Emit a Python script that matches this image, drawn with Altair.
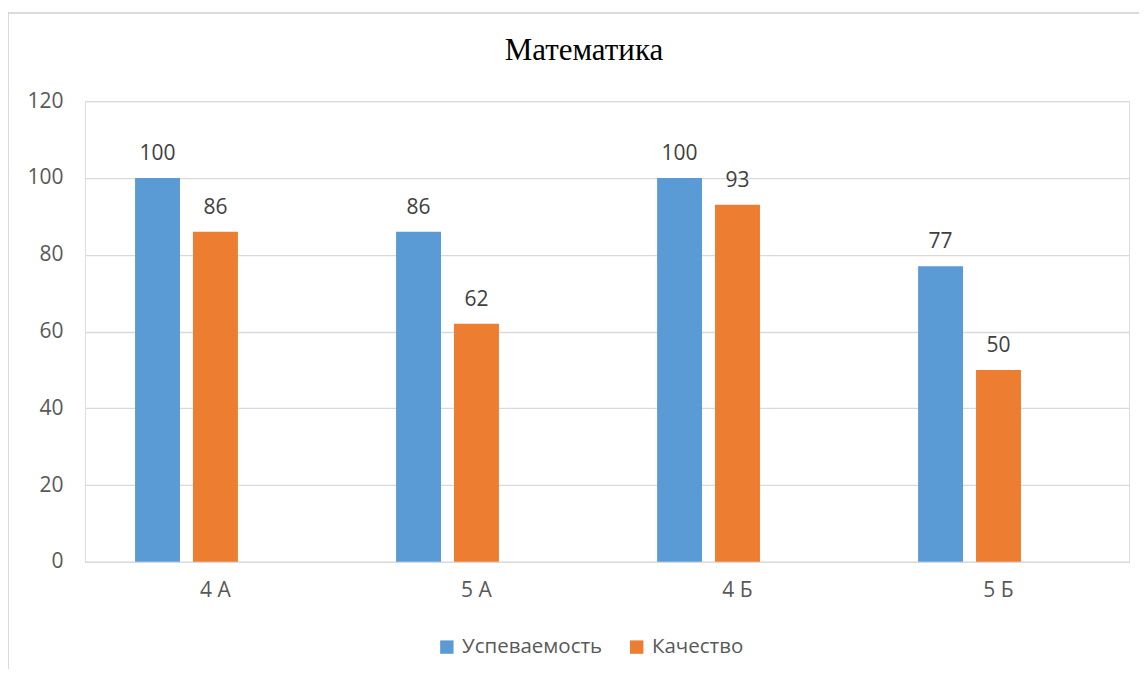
import altair as alt
import pandas as pd

classes = ["4 А", "5 А", "4 Б", "5 Б"]
uspev = [100, 86, 100, 77]
kach = [86, 62, 93, 50]
series = ["Успеваемость", "Качество"]
colors = ["#5B9BD5", "#ED7D31"]
# Excel leaves room for a third (empty) series slot in each group
offset_slots = series + ["_empty"]

rows = []
for c, u, k in zip(classes, uspev, kach):
    rows.append({"cls": c, "series": series[0], "value": u})
    rows.append({"cls": c, "series": series[1], "value": k})
df = pd.DataFrame(rows)

W, H = 1045, 461
FONT = "Open Sans"

x_enc = alt.X("cls:N", sort=classes, title=None,
              scale=alt.Scale(paddingInner=0.384, paddingOuter=0.192),
              axis=alt.Axis(labelAngle=0, labelFontSize=21, labelColor="#595959",
                            labelFont=FONT, labelPadding=18, ticks=False,
                            domainColor="#D9D9D9", domainWidth=1.3, grid=False))
xoff = alt.XOffset("series:N",
                   scale=alt.Scale(domain=offset_slots, paddingInner=0.224,
                                   paddingOuter=0))

base = alt.Chart(df)

bars = base.mark_bar().encode(
    x=x_enc,
    xOffset=xoff,
    y=alt.Y("value:Q", title=None,
            scale=alt.Scale(domain=[0, 120]),
            axis=alt.Axis(values=[0, 20, 40, 60, 80, 100, 120], labelFontSize=21,
                          labelColor="#595959", labelFont=FONT, labelPadding=22,
                          ticks=False, domain=False, gridColor="#D9D9D9",
                          gridWidth=1.3)),
    color=alt.Color("series:N", sort=series,
                    scale=alt.Scale(domain=series, range=colors),
                    legend=alt.Legend(title=None, orient="none", direction="horizontal",
                                      legendX=352, legendY=536, symbolType="square",
                                      symbolSize=180, symbolStrokeWidth=0,
                                      labelFontSize=20.5, labelFont=FONT,
                                      labelColor="#595959", columnPadding=24,
                                      labelOffset=5)),
)

labels = base.mark_text(dy=-18, baseline="alphabetic", fontSize=21, font=FONT,
                        color="#404040").encode(
    x=alt.X("cls:N", sort=classes),
    xOffset=xoff,
    y="value:Q",
    text="value:Q",
)

frame_v = alt.Chart(df).mark_rule(color="#D9D9D9", strokeWidth=1).encode(
    x=alt.value(-76.5), y=alt.value(-88.5), y2=alt.value(700))
frame_h = alt.Chart(df).mark_rule(color="#D9D9D9", strokeWidth=1).encode(
    x=alt.value(-76.5), x2=alt.value(1200), y=alt.value(-88.5))

chart = alt.layer(frame_v, frame_h, bars, labels).properties(
    width=W, height=H,
    title=alt.TitleParams("Математика", font="Liberation Serif", fontSize=31,
                          fontWeight="normal", color="#000000", anchor="middle",
                          dx=-23, offset=-55),
    padding={"left": 77, "top": 93, "right": 10, "bottom": 107},
    autosize=alt.AutoSizeParams(type="none"),
).configure_view(stroke=None).configure(background="white")

chart.save("out.html", embed_options={"renderer": "svg", "actions": False})
